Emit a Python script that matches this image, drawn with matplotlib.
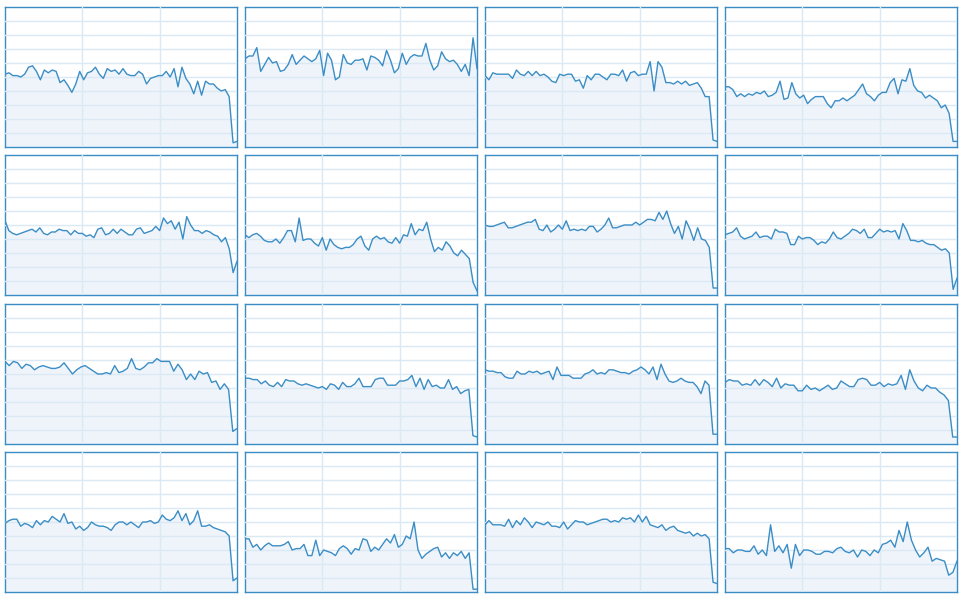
import numpy as np
import matplotlib
matplotlib.use("Agg")
import matplotlib.pyplot as plt

# one series per small panel (0-100 scale)
s01 = [52, 53, 51, 51, 50, 52, 57, 58, 54, 48, 55, 53, 55, 54, 46, 48, 44, 39, 45, 54,
       48, 53, 54, 57, 52, 49, 56, 54, 55, 52, 56, 52, 51, 51, 54, 52, 45, 49, 50, 51,
       51, 54, 50, 56, 43, 57, 49, 45, 38, 47, 37, 47, 45, 45, 42, 40, 41, 36, 3, 4]
s02 = [63, 65, 65, 71, 54, 59, 64, 60, 61, 54, 55, 59, 66, 59, 62, 65, 63, 61, 63, 69,
       51, 67, 62, 48, 50, 66, 60, 59, 62, 62, 63, 55, 65, 64, 62, 58, 69, 62, 53, 56,
       67, 59, 64, 66, 65, 65, 74, 62, 55, 58, 68, 63, 61, 62, 59, 54, 59, 51, 78, 56]
s03 = [51, 48, 53, 52, 52, 52, 52, 49, 55, 52, 51, 54, 51, 54, 51, 52, 50, 47, 46, 52,
       51, 52, 52, 47, 48, 42, 51, 48, 52, 52, 50, 48, 52, 52, 51, 55, 47, 53, 54, 51,
       52, 52, 61, 40, 61, 57, 46, 46, 45, 47, 45, 47, 44, 45, 46, 42, 36, 36, 5, 4]
s04 = [43, 43, 41, 36, 38, 36, 38, 37, 39, 38, 40, 36, 37, 39, 47, 34, 35, 46, 38, 35,
       37, 31, 34, 36, 36, 36, 31, 28, 33, 33, 35, 33, 35, 37, 41, 45, 38, 36, 33, 37,
       39, 39, 46, 49, 38, 48, 47, 56, 44, 40, 39, 35, 37, 35, 33, 28, 30, 24, 4, 4]
s05 = [53, 46, 44, 43, 44, 45, 46, 47, 45, 48, 44, 43, 45, 45, 47, 46, 46, 43, 46, 44,
       44, 42, 43, 41, 47, 48, 43, 44, 47, 44, 47, 45, 43, 43, 47, 48, 44, 45, 46, 49,
       46, 55, 51, 53, 47, 52, 40, 56, 50, 46, 46, 44, 46, 45, 43, 42, 38, 41, 33, 16, 24]
s06 = [43, 41, 43, 44, 42, 39, 38, 38, 40, 37, 41, 46, 46, 38, 55, 39, 40, 40, 37, 35,
       41, 32, 40, 36, 34, 33, 34, 34, 36, 40, 42, 35, 32, 40, 42, 40, 41, 38, 37, 41,
       37, 43, 42, 51, 43, 47, 46, 52, 40, 31, 34, 32, 38, 35, 30, 28, 32, 29, 26, 9, 3]
s07 = [50, 49, 49, 50, 51, 52, 48, 48, 49, 50, 51, 52, 52, 54, 47, 46, 50, 45, 47, 50,
       47, 53, 46, 47, 46, 47, 46, 49, 49, 45, 47, 50, 55, 48, 48, 49, 50, 50, 50, 52,
       50, 52, 54, 54, 53, 59, 54, 60, 51, 44, 49, 40, 53, 47, 39, 48, 40, 39, 34, 5, 5]
s08 = [43, 44, 45, 48, 42, 40, 41, 42, 45, 41, 42, 42, 40, 47, 45, 45, 44, 36, 36, 42,
       40, 41, 41, 39, 36, 38, 37, 40, 45, 41, 40, 42, 44, 47, 46, 44, 47, 41, 41, 44,
       47, 45, 46, 45, 46, 40, 51, 46, 39, 39, 38, 39, 37, 36, 36, 34, 32, 33, 30, 4, 12]
s09 = [59, 56, 59, 58, 54, 57, 56, 53, 55, 56, 55, 54, 54, 55, 58, 54, 50, 53, 55, 56,
       54, 52, 50, 50, 51, 50, 56, 51, 52, 54, 61, 54, 53, 55, 58, 58, 61, 59, 59, 59,
       52, 57, 53, 46, 50, 46, 52, 50, 51, 44, 45, 39, 43, 39, 9, 11]
s10 = [47, 47, 46, 46, 43, 45, 42, 41, 44, 41, 46, 45, 45, 43, 42, 43, 42, 41, 40, 41,
       39, 43, 42, 39, 44, 41, 41, 43, 47, 41, 41, 41, 46, 47, 47, 42, 42, 42, 45, 45,
       46, 49, 41, 47, 39, 46, 41, 42, 40, 40, 46, 39, 41, 36, 38, 39, 6, 5]
s11 = [53, 52, 52, 51, 51, 48, 47, 47, 52, 50, 50, 52, 51, 52, 50, 51, 52, 46, 55, 49,
       49, 49, 47, 47, 47, 50, 51, 53, 50, 51, 50, 53, 53, 52, 51, 51, 50, 52, 53, 55,
       53, 50, 55, 46, 57, 50, 45, 44, 45, 47, 45, 44, 44, 41, 36, 45, 42, 7, 7]
s12 = [44, 46, 45, 45, 42, 43, 42, 46, 42, 46, 44, 41, 47, 40, 43, 42, 42, 38, 38, 42,
       39, 40, 38, 40, 42, 39, 40, 45, 43, 41, 41, 46, 47, 46, 42, 42, 44, 41, 43, 42,
       43, 49, 39, 53, 45, 40, 38, 42, 40, 40, 37, 35, 31, 5, 5]
s13 = [49, 51, 52, 52, 47, 49, 48, 46, 51, 48, 51, 50, 54, 52, 50, 56, 49, 50, 45, 47,
       44, 46, 50, 48, 47, 47, 46, 44, 48, 50, 50, 48, 50, 48, 46, 50, 50, 51, 49, 50,
       55, 52, 51, 53, 58, 51, 56, 48, 51, 58, 47, 47, 48, 46, 45, 44, 43, 40, 8, 10]
s14 = [38, 38, 32, 34, 30, 33, 35, 33, 33, 33, 34, 36, 30, 31, 31, 34, 26, 26, 37, 26,
       30, 29, 28, 26, 31, 33, 31, 27, 31, 30, 38, 37, 29, 32, 30, 34, 38, 35, 41, 32,
       34, 40, 38, 50, 30, 24, 27, 29, 31, 32, 25, 28, 24, 28, 26, 29, 24, 28, 2, 2]
s15 = [48, 51, 48, 48, 48, 47, 52, 46, 51, 48, 53, 50, 46, 50, 49, 48, 50, 47, 47, 46,
       50, 45, 48, 51, 50, 50, 48, 49, 50, 51, 52, 52, 50, 51, 50, 53, 52, 53, 50, 55,
       50, 54, 48, 47, 46, 48, 44, 46, 47, 44, 43, 42, 43, 40, 42, 40, 41, 38, 7, 6]
s16 = [31, 31, 28, 30, 30, 29, 29, 33, 27, 30, 26, 48, 29, 33, 28, 34, 17, 34, 26, 30,
       30, 29, 27, 27, 29, 29, 28, 31, 32, 29, 28, 30, 25, 30, 29, 26, 30, 28, 34, 35,
       37, 32, 44, 36, 50, 37, 30, 25, 28, 32, 22, 24, 23, 22, 12, 14, 22]

series = [s01, s02, s03, s04, s05, s06, s07, s08,
          s09, s10, s11, s12, s13, s14, s15, s16]

line_col = '#3b8dc5'
fill_col = '#eef4fa'
grid_col = '#dbe9f5'

W, H = 963, 600
fig = plt.figure(figsize=(W / 100, H / 100), dpi=100)

col_x = [5, 245, 485, 725]
row_y = [7, 155, 304, 452]
pw, ph = 232, 140

for i, s in enumerate(series):
    r, c = divmod(i, 4)
    ax = fig.add_axes([col_x[c] / W, 1 - (row_y[r] + ph) / H, pw / W, ph / H])
    x = np.arange(len(s))
    n = len(s) - 1
    ax.fill_between(x, 0, s, color=fill_col, lw=0, zorder=1)
    ax.set_xlim(0, n)
    ax.set_ylim(0, 100)
    ax.set_yticks(np.arange(10, 100, 10))
    ax.set_xticks([n / 3, 2 * n / 3])
    ax.grid(True, color=grid_col, lw=1.0, zorder=2)
    ax.set_axisbelow(False)
    ax.plot(x, s, color=line_col, lw=1.0, zorder=3)
    ax.tick_params(length=0, labelbottom=False, labelleft=False)
    for sp in ax.spines.values():
        sp.set_color(line_col)
        sp.set_linewidth(1.0)

fig.savefig('out.png', dpi=100)
